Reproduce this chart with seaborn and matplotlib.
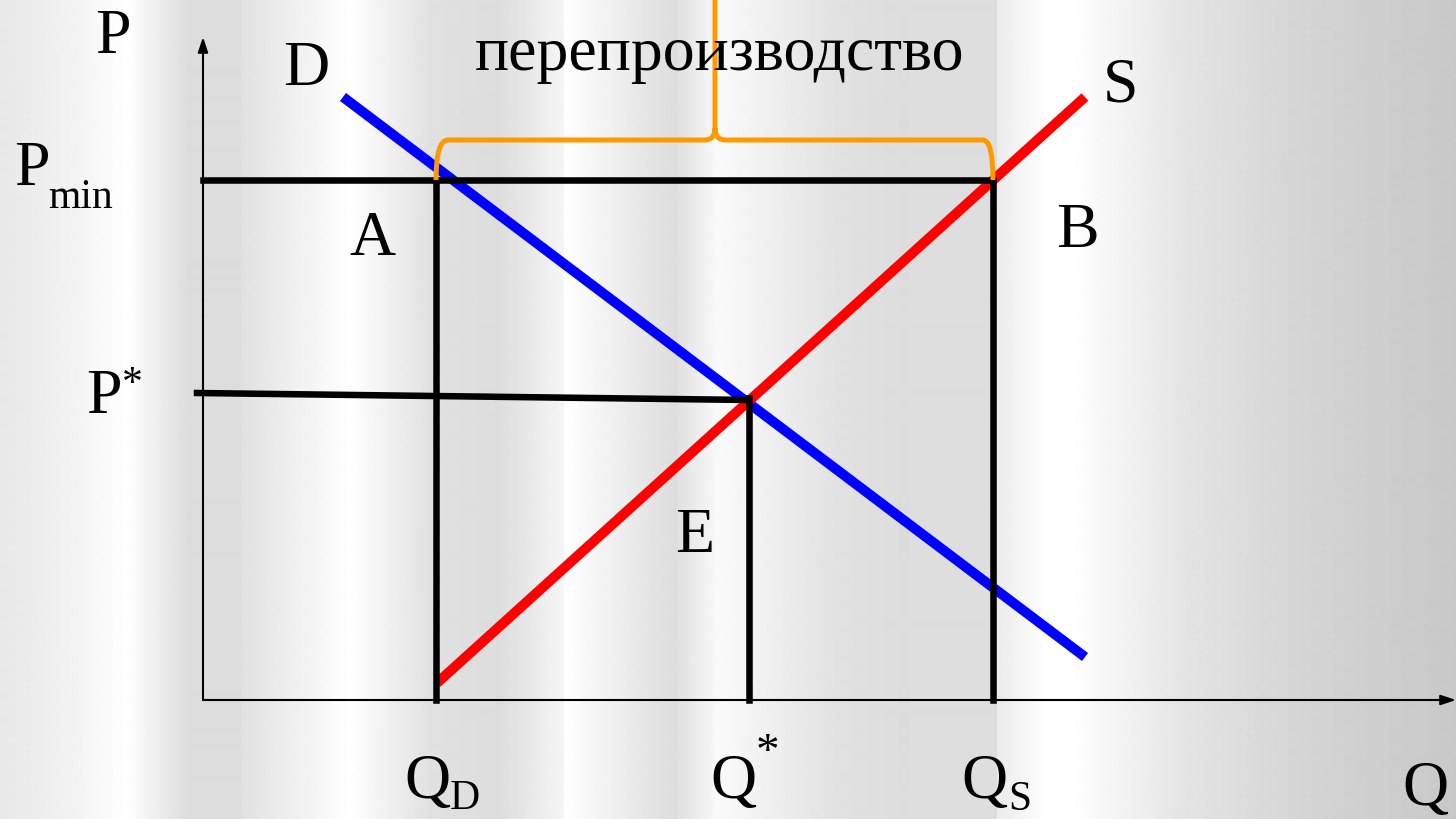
import numpy as np
import pandas as pd
import seaborn as sns
import matplotlib.pyplot as plt
from matplotlib.path import Path
from matplotlib.patches import PathPatch

# --- данные графика (Q, P в условных единицах, начало координат в точке O) ---
q_demand = [140, 882]
p_demand = [603, 43]
q_supply = [234, 882]
p_supply = [17, 603]

Q_D = 233      # объём спроса при P_min
Q_eq = 546     # равновесный объём
Q_S = 790      # объём предложения при P_min
P_min = 520
P_eq = [307, 300]   # линия P* слегка наклонена на рисунке
q_eq_line = [-6, Q_eq]

axis_q_max = 1253
axis_p_max = 663
brace_p = 560
brace_tip = 572

# полосы фона (x в пикселях, яркость)
bg_x = [0, 60, 127, 188, 240, 241, 350, 430, 498, 563, 564, 676, 677, 718,
        840, 900, 975, 996, 997, 1047, 1075, 1190, 1240, 1290, 1380, 1456]
bg_v = [232, 240, 255, 221, 221, 225, 255, 225, 221, 245, 255, 221, 224, 250,
        225, 221, 222, 221, 235, 255, 254, 227, 221, 214, 206, 200]

sns.set_theme(style="white")
plt.rcParams['font.family'] = ['Liberation Serif', 'DejaVu Serif']

fig = plt.figure(figsize=(14.56, 8.19), dpi=100)
ax = fig.add_axes([0, 0, 1, 1])
ax.set_xlim(-203, 1253)
ax.set_ylim(-119, 700)
ax.axis('off')

# фон
grad = np.interp(np.arange(1456), bg_x, bg_v)
ax.imshow(grad[np.newaxis, :], cmap='gray', vmin=0, vmax=255, aspect='auto',
          extent=[-203, 1253, -119, 700], zorder=0, interpolation='bilinear')

# оси
arrow = dict(arrowstyle='-|>,head_length=0.9,head_width=0.3', lw=1.5,
             color='black', shrinkA=0, shrinkB=0, mutation_scale=10)
ax.annotate('', xy=(0, axis_p_max), xytext=(0, 0), arrowprops=arrow, zorder=2)
ax.annotate('', xy=(axis_q_max, 0), xytext=(0, 0), arrowprops=arrow, zorder=2)

# кривые спроса и предложения
curves = pd.DataFrame({
    'Q': q_demand + q_supply,
    'P': p_demand + p_supply,
    'curve': ['D', 'D', 'S', 'S'],
})
sns.lineplot(data=curves, x='Q', y='P', hue='curve', estimator=None, sort=False,
             palette={'D': '#0000ff', 'S': '#ff0000'}, lw=7.2, legend=False,
             ax=ax, zorder=3, solid_capstyle='butt')

# вспомогательные линии
guides = pd.DataFrame({
    'Q': [0, Q_S, Q_D, Q_D, Q_S, Q_S] + q_eq_line + [Q_eq, Q_eq],
    'P': [P_min, P_min, P_min, 0, P_min, 0] + P_eq + [P_eq[1] + 2, 0],
    'seg': ['pmin', 'pmin', 'qd', 'qd', 'qs', 'qs', 'peq', 'peq', 'qeq', 'qeq'],
})
sns.lineplot(data=guides, x='Q', y='P', units='seg', estimator=None, sort=False,
             color='black', lw=4.7, ax=ax, zorder=4, solid_capstyle='projecting')

# фигурная скобка «перепроизводство»
mid = (Q_D + Q_S) / 2 + 0.5
verts = [(Q_D, P_min), (Q_D, brace_p), (Q_D + 12, brace_p),
         (mid - 10, brace_p), (mid, brace_p), (mid, brace_tip),
         (mid, 720), (mid, brace_tip), (mid, brace_p), (mid + 10, brace_p),
         (Q_S - 10, brace_p), (Q_S, brace_p), (Q_S, P_min)]
codes = [Path.MOVETO, Path.CURVE3, Path.CURVE3,
         Path.LINETO, Path.CURVE3, Path.CURVE3,
         Path.LINETO, Path.MOVETO, Path.CURVE3, Path.CURVE3,
         Path.LINETO, Path.CURVE3, Path.CURVE3]
ax.add_patch(PathPatch(Path(verts, codes), fill=False, ec='#ff9900', lw=3.6,
                       zorder=5, capstyle='butt', joinstyle='round'))

# подписи
fs = 46
sub = 30
txt = dict(color='black', va='baseline', ha='left', zorder=6)
ax.text(-108, 647, 'P', fontsize=fs, **txt)
ax.text(80, 615, 'D', fontsize=fs, **txt)
ax.text(517, 630, 'перепроизводство', fontsize=fs, color='black',
        va='baseline', ha='center', zorder=6)
ax.text(900, 598, 'S', fontsize=fs, **txt)
ax.text(-189, 515, 'P', fontsize=fs, **txt)
ax.text(-155, 492, 'min', fontsize=sub, **txt)
ax.text(146, 445, 'A', fontsize=fs, **txt)
ax.text(853, 453, 'B', fontsize=fs, **txt)
ax.text(-117, 287, 'P', fontsize=fs, **txt)
ax.text(-81, 305, '*', fontsize=30, **txt)
ax.text(472, 148, 'E', fontsize=fs, **txt)
ax.text(201, -98, 'Q', fontsize=fs, **txt)
ax.text(247, -109, 'D', fontsize=sub, **txt)
ax.text(507, -98, 'Q', fontsize=fs, **txt)
ax.text(553, -65, '*', fontsize=34, **txt)
ax.text(758, -98, 'Q', fontsize=fs, **txt)
ax.text(805, -110, 'S', fontsize=sub, **txt)
ax.text(1199, -105, 'Q', fontsize=fs, **txt)

fig.savefig('out.png', dpi=100)
